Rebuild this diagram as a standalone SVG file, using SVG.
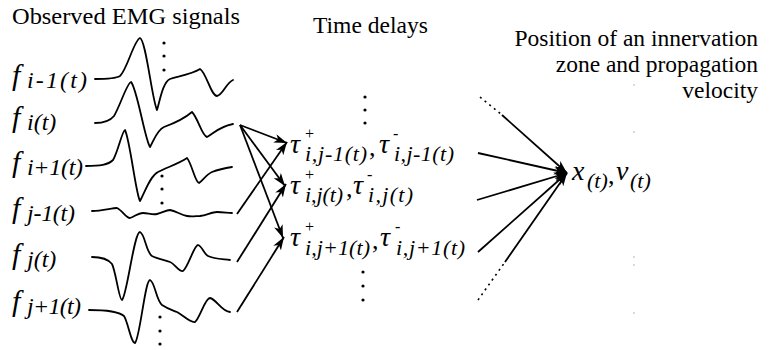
<svg xmlns="http://www.w3.org/2000/svg" width="773" height="350" viewBox="0 0 773 350">
<defs>
<marker id="ah" markerUnits="userSpaceOnUse" markerWidth="14" markerHeight="10" refX="13" refY="4.5" orient="auto">
<path d="M0,0 L13,4.5 L0,9 L3.5,4.5 z" fill="#000"/>
</marker>
</defs>
<g id="labels" font-family="Liberation Serif, Times New Roman, serif" fill="#000">
<text x="12" y="24" font-size="24" textLength="228" lengthAdjust="spacingAndGlyphs">Observed EMG signals</text>
<text x="313" y="33" font-size="24" textLength="115" lengthAdjust="spacingAndGlyphs">Time delays</text>
<g id="caption-right" font-size="23.5" text-anchor="end">
<text x="758" y="46">Position of an innervation</text>
<text x="758" y="72">zone and propagation</text>
<text x="758" y="98">velocity</text>
</g>
</g>
<g id="signals" font-family="Liberation Serif, Times New Roman, serif" font-style="italic">
<g id="f1"><text x="12" y="85" font-size="30">f</text><text x="27" y="88" font-size="24" textLength="60" lengthAdjust="spacing">i-1(t)</text></g>
<g id="f2"><text x="12" y="127" font-size="30">f</text><text x="27" y="130" font-size="24">i(t)</text></g>
<g id="f3"><text x="12" y="172" font-size="30">f</text><text x="27" y="175" font-size="24" textLength="56" lengthAdjust="spacing">i+1(t)</text></g>
<g id="f4"><text x="12" y="218" font-size="30">f</text><text x="27" y="221" font-size="24" textLength="48" lengthAdjust="spacing">j-1(t)</text></g>
<g id="f5"><text x="12" y="264" font-size="30">f</text><text x="27" y="267" font-size="24">j(t)</text></g>
<g id="f6"><text x="12" y="311" font-size="30">f</text><text x="27" y="314" font-size="24" textLength="54" lengthAdjust="spacing">j+1(t)</text></g>
</g>
<g id="waves" fill="none" stroke="#000" stroke-width="1.8" stroke-linejoin="round" stroke-linecap="round">
<path d="M95,79 C105,79 115,79 120,76 C127,70 134,40 140,38 C146,40 152,100 157,110 C160,100 163,82 170,79 C180,76 192,74 200,69 C206,72 211,96 217,96 C223,95 226,83 233,80"/>
<path d="M95,123 C105,123 110,121 114,116 C120,106 127,83 131,82 C137,88 145,140 150,147 C154,140 157,130 164,127 C175,123 185,118 192,112 C198,118 202,136 207,137 C213,134 218,127 233,124"/>
<path d="M86,166 C100,166 108,165 113,160 C118,152 122,131 125,130 C130,140 136,195 140,201 C145,192 150,176 158,172 C168,167 180,163 187,158 C192,164 195,182 199,183 C203,180 206,175 212,172 C220,169 226,168 232,167"/>
<path d="M92,211 C102,211 112,208 117,208 C122,210 126,218 130,218 C134,217 138,213 143,213 C148,213 152,215 157,214 C162,213 166,210 170,210 C176,211 181,215 187,216 C192,217 196,216 200,216 C207,215 212,212 217,212 C223,212 228,213 232,213"/>
<path d="M92,257 C102,257 108,259 112,264 C116,272 119,300 122,300 C127,296 134,232 140,232 C145,234 146,252 152,256 C158,259 165,260 170,262 C175,264 179,272 183,271 C188,268 194,245 198,245 C202,246 204,254 208,256 C214,259 222,259 230,260"/>
<path d="M89,310 C105,310 118,311 124,316 C128,322 131,343 135,343 C140,338 145,280 150,280 C155,282 156,300 162,305 C168,309 172,310 177,312 C183,315 190,323 195,322 C200,318 205,298 210,298 C216,299 222,312 230,312"/>
</g>
<g id="ellipses" fill="#000">
<circle cx="164" cy="43" r="1.6"/><circle cx="164" cy="56" r="1.6"/><circle cx="164" cy="70" r="1.6"/>
<circle cx="162" cy="176" r="1.6"/><circle cx="162" cy="189" r="1.6"/><circle cx="162" cy="203" r="1.6"/>
<circle cx="160" cy="317" r="1.6"/><circle cx="160" cy="331" r="1.6"/><circle cx="160" cy="344" r="1.6"/>
<circle cx="365" cy="97" r="1.6"/><circle cx="365" cy="110" r="1.6"/><circle cx="365" cy="123" r="1.6"/>
<circle cx="363" cy="272" r="1.6"/><circle cx="363" cy="286" r="1.6"/><circle cx="363" cy="300" r="1.6"/>
</g>
<g id="specks" fill="#aaa">
<circle cx="634" cy="85" r="0.8"/><circle cx="634" cy="132" r="0.8"/><circle cx="634" cy="257" r="0.8"/><circle cx="634" cy="265" r="0.8"/><circle cx="634" cy="313" r="0.8"/>
</g>
<g id="delays" font-family="Liberation Serif, Times New Roman, serif" font-style="italic">
<g id="tau1">
<text x="290" y="153" font-size="28">τ</text><text x="304" y="139" font-size="16">+</text><text x="305" y="161" font-size="22" textLength="62" lengthAdjust="spacing">i,j-1(t)</text>
<text x="369" y="156" font-size="26" font-style="normal">,</text>
<text x="379" y="153" font-size="28">τ</text><text x="393" y="139" font-size="16">-</text><text x="394" y="161" font-size="22" textLength="60" lengthAdjust="spacing">i,j-1(t)</text>
</g>
<g id="tau2">
<text x="290" y="194" font-size="28">τ</text><text x="304" y="180" font-size="16">+</text><text x="305" y="202" font-size="22" textLength="38" lengthAdjust="spacing">i,j(t)</text>
<text x="346" y="197" font-size="26" font-style="normal">,</text>
<text x="353" y="194" font-size="28">τ</text><text x="367" y="180" font-size="16">-</text><text x="368" y="202" font-size="22" textLength="45" lengthAdjust="spacing">i,j(t)</text>
</g>
<g id="tau3">
<text x="290" y="246" font-size="28">τ</text><text x="304" y="232" font-size="16">+</text><text x="305" y="255" font-size="22" textLength="65" lengthAdjust="spacing">i,j+1(t)</text>
<text x="372" y="249" font-size="26" font-style="normal">,</text>
<text x="380" y="246" font-size="28">τ</text><text x="395" y="232" font-size="16">-</text><text x="396" y="255" font-size="22" textLength="69" lengthAdjust="spacing">i,j+1(t)</text>
</g>
</g>
<g id="result" font-family="Liberation Serif, Times New Roman, serif" font-style="italic">
<text x="572" y="180" font-size="28">x</text><text x="587" y="188" font-size="22">(t)</text>
<text x="608" y="184" font-size="26" font-style="normal">,</text>
<text x="616" y="180" font-size="28">v</text><text x="630" y="188" font-size="22">(t)</text>
</g>
<g id="connectors" fill="none" stroke="#000" stroke-width="1.8">
<line x1="240" y1="125" x2="287" y2="143" marker-end="url(#ah)"/>
<line x1="240" y1="125" x2="285" y2="186" marker-end="url(#ah)"/>
<line x1="240" y1="125" x2="283" y2="238" marker-end="url(#ah)"/>
<line x1="237" y1="214" x2="287" y2="142" marker-end="url(#ah)"/>
<line x1="237" y1="262" x2="286" y2="184" marker-end="url(#ah)"/>
<line x1="237" y1="312" x2="284" y2="237" marker-end="url(#ah)"/>
<line x1="480" y1="97" x2="502" y2="115" stroke-width="1.6" stroke-dasharray="2 4"/>
<line x1="502" y1="115" x2="567" y2="173" marker-end="url(#ah)"/>
<line x1="478" y1="153" x2="567" y2="173" marker-end="url(#ah)"/>
<line x1="477" y1="200" x2="567" y2="173" marker-end="url(#ah)"/>
<line x1="478" y1="252" x2="567" y2="173" marker-end="url(#ah)"/>
<line x1="505" y1="262" x2="567" y2="173" marker-end="url(#ah)"/>
<line x1="478" y1="300" x2="505" y2="262" stroke-width="1.6" stroke-dasharray="2 4"/>
</g>
</svg>
